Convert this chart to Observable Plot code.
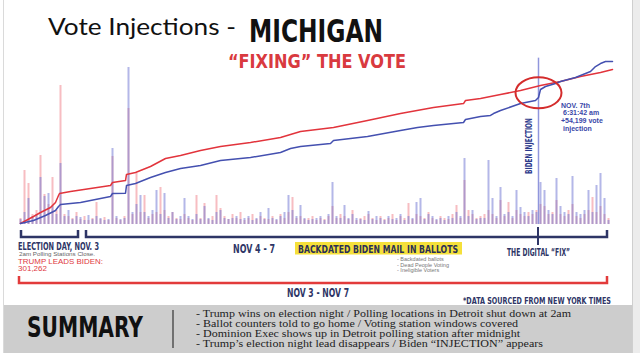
<!DOCTYPE html>
<html><head><meta charset="utf-8">
<script src="https://cdn.jsdelivr.net/npm/d3@7"></script>
<script src="https://cdn.jsdelivr.net/npm/@observablehq/plot@0.6"></script>
<style>
html,body{margin:0;padding:0;background:#fff;}
#page{position:relative;width:640px;height:353px;overflow:hidden;background:#fff;}
#page svg{position:absolute;left:0;top:0;}
</style></head>
<body><div id="page"></div>
<script>
// Per-batch vote counts (thousands), one bin per reporting interval
const trumpBatch = [6,54,41,10,14,69,30,20,47,14,
139,10,8,6,12,5,8,4,6,22,
5,7,4,68,6,4,8,116,10,51,
12,29,6,10,12,37,14,8,12,6,
5,10,6,4,29,6,21,5,8,29,
16,8,5,10,6,12,4,6,10,5,
8,6,5,8,4,10,6,12,27,6,
8,5,6,8,4,6,5,8,18,6,
10,8,5,14,4,6,8,10,6,4,
8,5,6,10,4,8,6,21,5,10,
8,6,12,6,4,8,6,5,10,19,
6,44,14,10,6,8,10,14,10,6,
24,8,22,6,14,10,8,12,10,14,
20,18,10,12,24,10,8,14,20,8,
6,10,14,27,12,18,10,6];
const bidenBatch = [5,12,26,8,10,47,28,31,18,10,
61,8,14,5,8,7,4,9,5,8,
6,4,5,76,8,5,6,157,12,20,
29,12,8,14,34,10,31,6,12,5,
8,26,8,5,10,5,18,6,4,12,
14,6,5,6,8,5,6,8,4,6,
12,5,16,6,5,8,12,29,14,8,
19,6,4,5,6,8,4,10,42,8,
6,19,6,10,6,5,4,13,5,8,
6,4,8,5,6,10,4,8,6,22,
26,5,10,8,5,6,4,8,6,12,
8,66,8,14,5,6,6,64,26,8,
37,10,12,8,34,17,12,8,14,12,
42,34,14,10,46,18,12,10,48,12,
10,14,34,12,39,51,26,4];

// Cumulative totals (thousands of votes)
const trumpTime  = [0,3.25,5,7.5,8.75,9.5,9.75,12.5,17.5,22.5,23,26.25,26.5,28.75,32.5,36.25,40,45,50,57.5,65,67.5,70,78.25,86.75,95,103.25,110.75,111.25,115,120,125,130,135,140,145,148];
const trumpTotal = [17,137,205,290,376,495,529,563,615,666,717,751,854,888,990,1127,1178,1263,1331,1400,1485,1536,1587,1656,1775,1895,1997,2065,2117,2151,2219,2288,2373,2441,2526,2595,2646];
const bidenTime  = [0,3.25,6.25,8.75,9.5,10,15,22.5,23,26.25,26.5,28.75,32.5,36.25,40,45,50,57.5,65,67.5,70,77.5,78.25,86.75,95,99.25,103.25,110.75,111.25,115,117.5,118.25,120,125,128.75,129.5,130,131.25,133.75,135,138.75,142.5,143.75,145,146.25,148];
const bidenTotal = [17,68,154,239,307,341,376,478,529,535,666,700,802,888,956,1007,1092,1144,1229,1297,1331,1383,1434,1502,1605,1656,1690,1741,1792,1844,1861,1895,1946,2065,2117,2168,2305,2356,2407,2441,2509,2612,2697,2748,2782,2782];

const injectionTime = 129.5;
const injectionLabel = ["NOV. 7th", "6:31:42 am", "+54,199 vote", "injection"];
const periodLabels = ["ELECTION DAY, NOV. 3", "NOV 4 - 7", "NOV 3 - NOV 7"];
const periodStart = [0, 16.5, -0.25];
const periodEnd = [14.5, 146.75, 146.75];
const fraudList = ["- Backdated ballots", "- Dead People Voting", "- Ineligible Voters"];
const summaryLines = [
  "- Trump wins on election night / Polling locations in Detroit shut down at 2am",
  "- Ballot counters told to go home / Voting station windows covered",
  "- Dominion Exec shows up in Detroit polling station after midnight",
  "- Trump\u2019s election night lead disappears / Biden \u201cINJECTION\u201d appears"
];

const page = document.getElementById("page");
const COND = "'Liberation Sans Narrow','DejaVu Sans Condensed','Arial Narrow',Roboto,sans-serif";
const NAVY = "#2e3566";
const W = 640, H = 232;

// background decorations
const bg = d3.select(page).append("svg").attr("width", 640).attr("height", 353);
bg.append("line").attr("x1", 3.5).attr("x2", 3.5).attr("y1", 0).attr("y2", 353).attr("stroke", "#dadada");
bg.append("rect").attr("x", 632).attr("y", 0).attr("width", 8).attr("height", 353).attr("fill", "#ececec");
bg.append("line").attr("x1", 632.5).attr("x2", 632.5).attr("y1", 0).attr("y2", 353).attr("stroke", "#cfcfcf");
bg.append("rect").attr("x", 4).attr("y", 305).attr("width", 628).attr("height", 48).attr("fill", "#cdcdcd");

const bins = trumpBatch.map((v, i) => ({t: i, trump: v, biden: bidenBatch[i]}));
const barsPlot = Plot.plot({
  width: W, height: H, marginLeft: 20, marginRight: 28, marginTop: 64, marginBottom: 8,
  style: "background:transparent;overflow:visible;",
  x: {domain: [0, 148], axis: null},
  y: {domain: [0, 160], axis: null},
  marks: [
    Plot.ruleX(bins, {x: "t", y1: 0, y2: "trump", stroke: "#f07b86", strokeOpacity: 0.5, strokeWidth: 2}),
    Plot.ruleX(bins, {x: "t", y1: 0, y2: "biden", stroke: "#777cd6", strokeOpacity: 0.55, strokeWidth: 2})
  ]
});
page.appendChild(barsPlot);

const trumpLine = trumpTime.map((t, i) => ({t, v: trumpTotal[i]}));
const bidenLine = bidenTime.map((t, i) => ({t, v: bidenTotal[i]}));
const linesPlot = Plot.plot({
  width: W, height: H, marginLeft: 20, marginRight: 28, marginTop: 60, marginBottom: 8,
  style: "background:transparent;overflow:visible;",
  x: {domain: [0, 148], axis: null},
  y: {domain: [0, 2800], axis: null},
  marks: [
    Plot.ruleX([injectionTime], {y1: 0, y2: 2840, stroke: "#9096dc", strokeWidth: 1.5}),
    Plot.line(trumpLine, {x: "t", y: "v", stroke: "#e2343c", strokeWidth: 1.5}),
    Plot.line(bidenLine, {x: "t", y: "v", stroke: "#4450b0", strokeWidth: 1.5})
  ]
});
page.appendChild(linesPlot);

const sx = linesPlot.scale("x").apply;
const sy = linesPlot.scale("y").apply;

const ov = d3.select(page).append("svg").attr("width", 640).attr("height", 353);
function txt(x, y, s, o = {}) {
  const e = ov.append("text").attr("x", x).attr("y", y).text(s)
    .attr("font-family", o.family || COND)
    .attr("font-size", o.size || 10)
    .attr("font-weight", o.weight || "bold")
    .attr("fill", o.fill || NAVY)
    .attr("text-anchor", o.anchor || "start");
  if (o.len) e.attr("textLength", o.len).attr("lengthAdjust", "spacingAndGlyphs");
  if (o.rotate) e.attr("transform", `rotate(${o.rotate},${x},${y})`);
  return e;
}

// titles
txt(48, 35, "Vote Injections -", {family: "Lato,'Open Sans',sans-serif", size: 24, weight: "normal", fill: "#111", len: 188});
txt(249, 42, "MICHIGAN", {size: 32, fill: "#111", len: 134});
txt(317, 68, "\u201cFIXING\u201d THE VOTE", {size: 20, fill: "#d93a3f", anchor: "middle", len: 178});

// injection annotation
const ix = sx(injectionTime);
ov.append("ellipse").attr("cx", ix + 0.5).attr("cy", sy(2240)).attr("rx", 23).attr("ry", 15.5)
  .attr("fill", "none").attr("stroke", "#d42c2c").attr("stroke-width", 2);
txt(ix - 6, 146, "BIDEN INJECTION", {size: 8.5, anchor: "middle", rotate: -90, len: 56, fill: "#2d3a8c"});
injectionLabel.forEach((s, i) => {
  txt(ix + 23 + (i % 2) * 2, 107.5 + i * 7.7, s, {family: "'Liberation Sans',Arial,sans-serif", size: 7, fill: "#3a47a8"});
});

// brackets
function bracket(x1, x2, yl, yt, color) {
  ov.append("path").attr("d", `M${x1},${yt}V${yl}H${x2}V${yt}`)
    .attr("fill", "none").attr("stroke", color).attr("stroke-width", 2.5);
}
bracket(sx(periodStart[0]) + 1, sx(periodEnd[0]), 237, 230, NAVY);
bracket(sx(periodStart[1]), sx(periodEnd[1]), 237, 230, NAVY);
ov.append("line").attr("x1", ix).attr("x2", ix).attr("y1", 227).attr("y2", 245).attr("stroke", NAVY).attr("stroke-width", 2);
bracket(sx(periodStart[2]), sx(periodEnd[2]), 283, 276, "#e23b3b");

// labels under chart
txt(18, 250, periodLabels[0], {size: 10, len: 81});
txt(19, 256, "2am Polling Stations Close.", {family: "'Liberation Sans',Arial,sans-serif", size: 5.5, weight: "normal", fill: "#666", len: 76});
txt(18, 263.5, "TRUMP LEADS BIDEN:", {family: "'Liberation Sans',Arial,sans-serif", size: 7, weight: "normal", fill: "#e0393e", len: 85});
txt(18, 270.5, "301,262", {family: "'Liberation Sans',Arial,sans-serif", size: 7, weight: "normal", fill: "#e0393e", len: 29});
txt(233, 253, periodLabels[1], {size: 12.5, len: 42});
ov.append("rect").attr("x", 295).attr("y", 242).attr("width", 167).attr("height", 12.5).attr("fill", "#f5e03a");
txt(298, 252.5, "BACKDATED BIDEN MAIL IN BALLOTS", {size: 11, len: 160, fill: "#2a2f55"});
fraudList.forEach((s, i) => txt(397, 261 + i * 5.5, s, {family: "'Liberation Sans',Arial,sans-serif", size: 5.5, weight: "normal", fill: "#777"}));
txt(507, 256, "THE DIGITAL \u201cFIX\u201d", {size: 10, len: 63});
txt(287, 297, periodLabels[2], {size: 13, len: 62});
txt(463, 303.5, "*DATA SOURCED FROM NEW YORK TIMES", {size: 8, len: 148});

// summary band
txt(27, 337, "SUMMARY", {size: 28, fill: "#111", len: 116});
ov.append("line").attr("x1", 173).attr("x2", 173).attr("y1", 310).attr("y2", 348).attr("stroke", "#333").attr("stroke-width", 1.2);
const sumLens = [375, 322, 324, 347];
summaryLines.forEach((s, i) => txt(196, 316.5 + i * 10.3, s, {family: "'Liberation Serif','Times New Roman',serif", size: 10.5, weight: "normal", fill: "#222", len: sumLens[i]}));
</script>
</body></html>
